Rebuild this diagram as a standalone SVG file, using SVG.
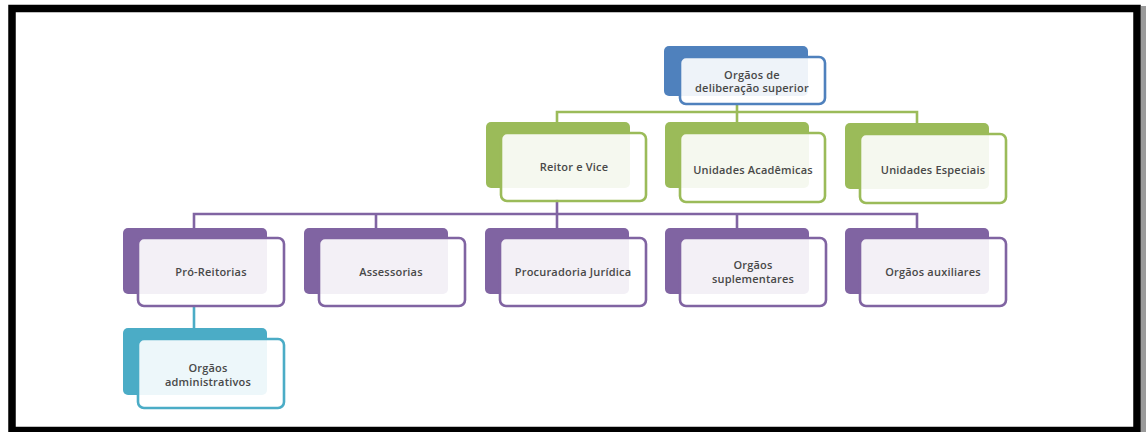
<svg xmlns="http://www.w3.org/2000/svg" width="1146" height="432" viewBox="0 0 1146 432">
<style>
.t{font-family:"Open Sans","Liberation Sans",Arial,sans-serif;font-size:11px;font-weight:600;fill:#484848;text-anchor:middle;letter-spacing:0.2px}
.bk{stroke:none}
.fr{fill:#ffffff;fill-opacity:0.9;stroke-width:2.6}
.g .bk{fill:#9BBB59}.g .fr{stroke:#9BBB59}
.p .bk{fill:#8064A2}.p .fr{stroke:#8064A2}
.b .bk{fill:#4F81BD}.b .fr{stroke:#4F81BD}
.c .bk{fill:#4BACC6}.c .fr{stroke:#4BACC6}
.cn{fill:none;stroke-width:2.6}
</style>
<rect x="0" y="0" width="1146" height="432" fill="#ffffff"/>
<rect x="1141" y="6" width="5" height="426" fill="#9a9a9a"/>
<rect x="12" y="8.5" width="1125" height="422" fill="none" stroke="#000000" stroke-width="7.5"/>
<g id="connectors">
<path class="cn" stroke="#9BBB59" d="M737 103V123M557 123V112H917V123"/>
<path class="cn" stroke="#8064A2" d="M557 199V228M194 228V214H917V228M376 214V228M737 214V228"/>
<path class="cn" stroke="#4BACC6" d="M194 305V329"/>
</g>
<g id="n-deliberacao" class="b">
<rect class="bk" x="664" y="46" width="144" height="50" rx="5"/>
<rect class="fr" x="680" y="57" width="145" height="47" rx="6"/>
<text class="t" x="752" y="79">Orgãos de</text>
<text class="t" x="752" y="92">deliberação superior</text>
</g>
<g id="n-reitor" class="g">
<rect class="bk" x="486" y="122" width="144" height="66" rx="5"/>
<rect class="fr" x="501" y="133" width="145" height="68" rx="6"/>
<text class="t" x="574" y="171">Reitor e Vice</text>
</g>
<g id="n-academicas" class="g">
<rect class="bk" x="665" y="122" width="144" height="66" rx="5"/>
<rect class="fr" x="680" y="133" width="145" height="69" rx="6"/>
<text class="t" x="753" y="174">Unidades Acadêmicas</text>
</g>
<g id="n-especiais" class="g">
<rect class="bk" x="845" y="123" width="144" height="66" rx="5"/>
<rect class="fr" x="860" y="134" width="146" height="69" rx="6"/>
<text class="t" x="933" y="174">Unidades Especiais</text>
</g>
<g id="n-proreitorias" class="p">
<rect class="bk" x="123" y="228" width="144" height="66" rx="5"/>
<rect class="fr" x="138" y="238" width="146" height="68" rx="6"/>
<text class="t" x="211" y="276">Pró-Reitorias</text>
</g>
<g id="n-assessorias" class="p">
<rect class="bk" x="304" y="228" width="144" height="66" rx="5"/>
<rect class="fr" x="319" y="238" width="146" height="68" rx="6"/>
<text class="t" x="391" y="276">Assessorias</text>
</g>
<g id="n-procuradoria" class="p">
<rect class="bk" x="485" y="228" width="144" height="66" rx="5"/>
<rect class="fr" x="500" y="238" width="146" height="68" rx="6"/>
<text class="t" x="573" y="276">Procuradoria  Jurídica</text>
</g>
<g id="n-suplementares" class="p">
<rect class="bk" x="665" y="228" width="144" height="66" rx="5"/>
<rect class="fr" x="680" y="238" width="146" height="68" rx="6"/>
<text class="t" x="753" y="269">Orgãos</text>
<text class="t" x="753" y="283">suplementares</text>
</g>
<g id="n-auxiliares" class="p">
<rect class="bk" x="845" y="228" width="144" height="66" rx="5"/>
<rect class="fr" x="860" y="238" width="146" height="68" rx="6"/>
<text class="t" x="933" y="276">Orgãos auxiliares</text>
</g>
<g id="n-administrativos" class="c">
<rect class="bk" x="123" y="328" width="144" height="67" rx="5"/>
<rect class="fr" x="138" y="339" width="146" height="69" rx="6"/>
<text class="t" x="208" y="372">Orgãos</text>
<text class="t" x="208" y="386">administrativos</text>
</g>
</svg>
